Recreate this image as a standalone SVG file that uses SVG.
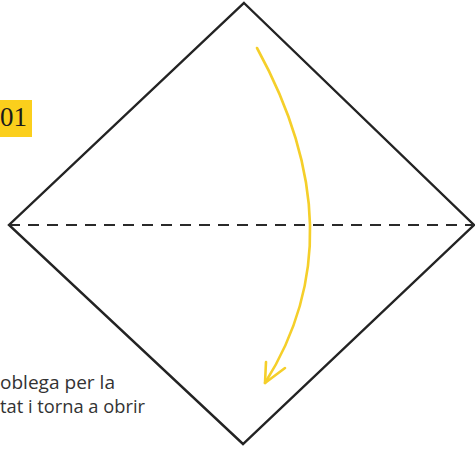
<svg xmlns="http://www.w3.org/2000/svg" width="475" height="450" viewBox="0 0 475 450">
<style>
.edge{fill:none;stroke:#232323;stroke-width:2.4;stroke-linejoin:miter;stroke-linecap:round}
.fold{fill:none;stroke:#2a2a2a;stroke-width:2.2;stroke-dasharray:11 8}
.arrow{fill:none;stroke:#f5cf2a;stroke-width:2.6;stroke-linecap:round;stroke-linejoin:round}
.cap{font-family:"Open Sans","Noto Sans",sans-serif;font-size:19px;font-weight:500;fill:#333}
.num{font-family:"Liberation Serif",serif;font-size:27px;fill:#1a1a1a}
</style>
<rect width="475" height="450" fill="#fff"/>
<g id="paper">
<polygon class="edge" points="244,3 474,225 243,444 9,225"/>
</g>
<g id="connectors">
<line class="fold" x1="9" y1="225" x2="474" y2="225"/>
<path class="arrow" d="M257,48 Q359,234 265,383"/>
<path class="arrow" d="M266,362 L265,383 L285,368"/>
</g>
<g id="step">
<rect x="0" y="100" width="32" height="37" fill="#fbcf1c"/>
<text class="num" x="0" y="126">01</text>
</g>
<g id="caption">
<text class="cap" x="0" y="389" textLength="115" lengthAdjust="spacingAndGlyphs">oblega per la</text>
<text class="cap" x="0" y="413" textLength="145" lengthAdjust="spacingAndGlyphs">tat i torna a obrir</text>
</g>
</svg>
